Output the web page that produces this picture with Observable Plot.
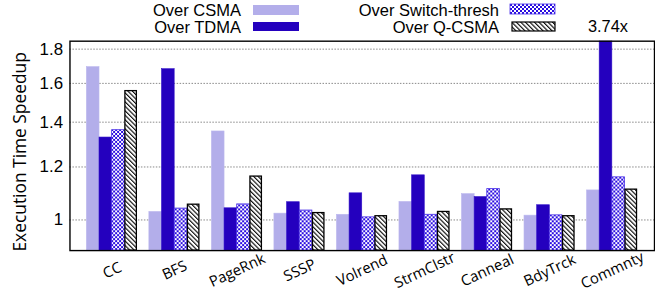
<!DOCTYPE html>
<html><head><meta charset="utf-8">
<script src="https://cdn.jsdelivr.net/npm/d3@7"></script>
<script src="https://cdn.jsdelivr.net/npm/@observablehq/plot@0.6"></script>
<style>
html,body{margin:0;padding:0;background:#fff;overflow:hidden;}
#wrap{position:relative;width:655px;height:292px;overflow:hidden;}
#legend{position:absolute;left:0;top:0;}
</style></head><body>
<div id="wrap"><div id="chart"></div><svg id="legend" width="655" height="38"></svg></div>
<script>
const categories = ["CC","BFS","PageRnk","SSSP","Volrend","StrmClstr","Canneal","BdyTrck","Commnty"];
const seriesNames = ["Over CSMA","Over TDMA","Over Switch-thresh","Over Q-CSMA"];
const overCSMA   = [1.692,1.028,1.356,1.022,1.018,1.064,1.093,1.015,1.107];
const overTDMA   = [1.328,1.680,1.041,1.063,1.096,1.166,1.082,1.052,3.74];
const overSwitch = [1.362,1.040,1.055,1.033,1.009,1.018,1.112,1.016,1.158];
const overQCSMA  = [1.558,1.054,1.161,1.024,1.013,1.028,1.037,1.013,1.110];
const yTicks = [1,1.2,1.4,1.6,1.8];
const yDomain = [0.9,1.85];
const yLabel = "Execution Time Speedup";

const seriesValues = [overCSMA, overTDMA, overSwitch, overQCSMA];
const fills = ["#b3aeea", "#2400be", "url(#checker)", "url(#hatch)"];
const strokes = ["#bcb8ee", "#3010c8", "#4a30e8", "#000"];
const strokeWidths = [0.6, 0.6, 0.8, 1.3];
const data = seriesValues.flatMap((vals, s) => vals.map((v, i) => ({cat: categories[i], series: seriesNames[s], s, value: v})));

const W = 660, H = 292, mL = 70, mR = 1, mT = 41, mB = 40;
const xOpts = {type: "band", domain: categories, paddingInner: 0.194, paddingOuter: 0.253};
const bw = Plot.scale({x: {...xOpts, range: [mL, W - mR]}}).bandwidth;
const sub = bw / 4;

const marks = [
  Plot.gridY(yTicks, {stroke: "#888", strokeOpacity: 1, strokeDasharray: "1.5,1.5", strokeWidth: 1}),
];
for (let s = 0; s < 4; s++) {
  marks.push(Plot.barY(data.filter(d => d.s === s), {
    x: "cat", y1: () => yDomain[0], y2: "value",
    fill: fills[s], stroke: strokes[s], strokeWidth: strokeWidths[s],
    insetLeft: s * sub + (s === 3 ? 0.6 : 0), insetRight: (3 - s) * sub + (s === 3 ? 0.6 : 0), clip: true
  }));
}
marks.push(
  Plot.frame({stroke: "#000", strokeWidth: 1.4}),
  Plot.axisY(yTicks, {tickSize: 0, tickPadding: 7, fontSize: 17, tickFormat: d => d === 1 ? "1" : d.toFixed(1), label: null}),
  Plot.text(categories, {x: d => d, frameAnchor: "bottom", dy: 20, rotate: -25, textAnchor: "middle", lineAnchor: "middle", fontSize: 15, fontFamily: "Open Sans"}),
  Plot.text([yLabel], {frameAnchor: "left", dx: -50, dy: 6, rotate: -90, textAnchor: "middle", lineAnchor: "middle", fontSize: 17.5, fontFamily: "Open Sans"}),
  Plot.text(data.filter(d => d.value > yDomain[1]), {x: "cat", y: () => yDomain[1], text: d => d.value + "x", dx: (1 - 1.5) * sub + 2, dy: -9, lineAnchor: "bottom", fontSize: 16.5})
);

const svg = Plot.plot({
  width: W, height: H, marginLeft: mL, marginRight: mR, marginTop: mT, marginBottom: mB,
  style: {fontFamily: "'Liberation Sans', Arial, sans-serif", fontSize: "16px", background: "#fff", overflow: "visible"},
  x: {...xOpts, axis: null},
  y: {type: "log", domain: yDomain, axis: null},
  marks
});

const defs = d3.select(svg).insert("defs", ":first-child");
const chk = defs.append("pattern").attr("id", "checker").attr("patternUnits", "userSpaceOnUse").attr("width", 4).attr("height", 4);
chk.append("rect").attr("width", 4).attr("height", 4).attr("fill", "#2a0ce0");
chk.append("rect").attr("x", 0).attr("y", 0).attr("width", 2).attr("height", 2).attr("fill", "#fff");
chk.append("rect").attr("x", 2).attr("y", 2).attr("width", 2).attr("height", 2).attr("fill", "#fff");
const hat = defs.append("pattern").attr("id", "hatch").attr("patternUnits", "userSpaceOnUse").attr("width", 3.2).attr("height", 3.2).attr("patternTransform", "rotate(-45)");
hat.append("rect").attr("width", 3.2).attr("height", 3.2).attr("fill", "#fff");
hat.append("line").attr("x1", 0.6).attr("y1", 0).attr("x2", 0.6).attr("y2", 3.2).attr("stroke", "#000").attr("stroke-width", 1.1);

document.getElementById("chart").appendChild(svg);

// legend
const lg = d3.select("#legend").style("font-family", "'Liberation Sans', Arial, sans-serif").style("font-size", "16.5px");
const legendItems = [
  {name: seriesNames[0], tx: 241, ty: 16, rx: 253, ry: 5, rw: 46, rh: 10, s: 0},
  {name: seriesNames[1], tx: 241, ty: 33, rx: 253, ry: 22, rw: 46, rh: 9, s: 1},
  {name: seriesNames[2], tx: 499, ty: 16, rx: 510, ry: 4, rw: 45, rh: 10, s: 2},
  {name: seriesNames[3], tx: 499, ty: 33, rx: 512, ry: 22, rw: 43, rh: 9, s: 3}
];
for (const it of legendItems) {
  lg.append("text").attr("x", it.tx).attr("y", it.ty).attr("text-anchor", "end").attr("fill", "#000").text(it.name);
  lg.append("rect").attr("x", it.rx).attr("y", it.ry).attr("width", it.rw).attr("height", it.rh)
    .attr("fill", fills[it.s]).attr("stroke", it.s === 3 ? "#000" : (it.s === 2 ? "#4a30e8" : "none")).attr("stroke-width", it.s === 3 ? 1.2 : 0.8);
}
</script>
</body></html>
